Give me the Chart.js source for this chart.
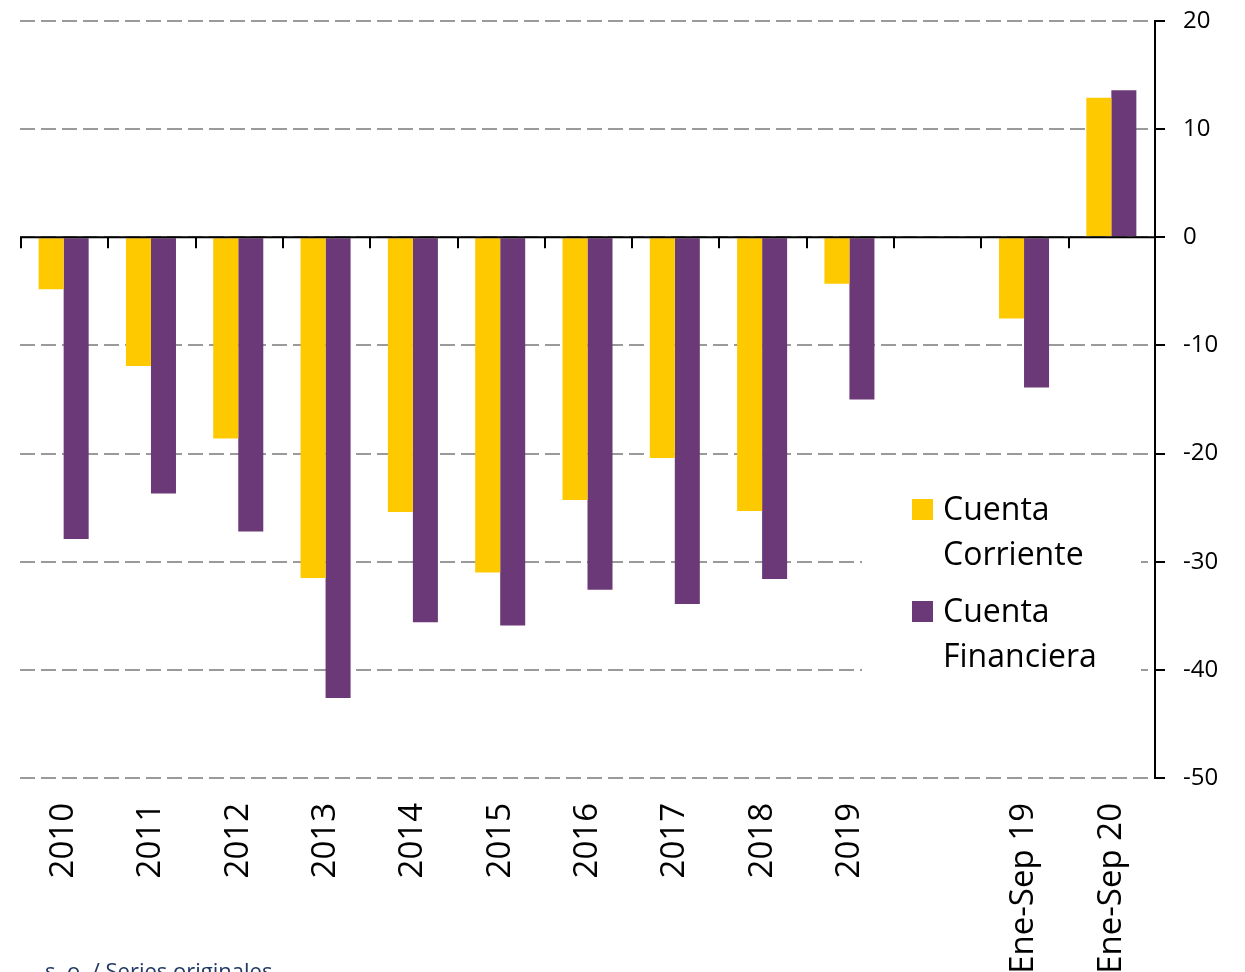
<!DOCTYPE html>
<html>
<head>
<meta charset="utf-8">
<script src="https://cdn.jsdelivr.net/npm/chart.js@4.4.1/dist/chart.umd.min.js"></script>
<style>
  html, body { margin: 0; padding: 0; background: #ffffff; }
  #wrap { position: relative; width: 1245px; height: 972px; overflow: hidden; }
  canvas { display: block; }
</style>
</head>
<body>
<div id="wrap"><canvas id="c" width="1245" height="972"></canvas></div>
<script>
const categories = ['2010', '2011', '2012', '2013', '2014', '2015', '2016', '2017', '2018', '2019', '', 'Ene-Sep 19', 'Ene-Sep 20'];
const cuentaCorriente = [-4.8, -11.9, -18.6, -31.5, -25.4, -31.0, -24.3, -20.4, -25.3, -4.3, null, -7.5, 12.9];
const cuentaFinanciera = [-27.9, -23.7, -27.2, -42.6, -35.6, -35.9, -32.6, -33.9, -31.6, -15.0, null, -13.9, 13.6];
const seriesLabels = ['Cuenta Corriente', 'Cuenta Financiera'];
const yMin = -50, yMax = 20, yStep = 10;
const footnote = 's. o. / Series originales';

const FONT = "'Open Sans', 'DejaVu Sans', sans-serif";
const YELLOW = '#FFC900';
const PURPLE = '#6B3977';

const decorPlugin = {
  id: 'decor',
  afterDatasetsDraw(chart) {
    const ctx = chart.ctx;
    const xs = chart.scales.x, ys = chart.scales.y;
    const area = chart.chartArea;
    const y0 = ys.getPixelForValue(0);
    const step = xs.getPixelForValue(1) - xs.getPixelForValue(0);
    ctx.save();
    ctx.strokeStyle = '#000';
    ctx.lineWidth = 2;
    ctx.beginPath();
    ctx.moveTo(area.left, y0);
    ctx.lineTo(area.right, y0);
    for (let i = 0; i < categories.length; i++) {
      const bx = Math.round(xs.getPixelForValue(i) - step / 2);
      ctx.moveTo(bx + 1, y0);
      ctx.lineTo(bx + 1, y0 + 11);
    }
    ctx.stroke();

    // legend
    const lx = area.right - 293, ly = 475;
    ctx.fillStyle = '#fff';
    ctx.fillRect(lx, ly, 279, 218);
    const sq = area.right - 243, tx = area.right - 212;
    const blocks = [
      { color: YELLOW, label: chart.data.datasets[0].label, top: 499 },
      { color: PURPLE, label: chart.data.datasets[1].label, top: 601 }
    ];
    ctx.font = '32px ' + FONT;
    ctx.textBaseline = 'alphabetic';
    ctx.textAlign = 'left';
    blocks.forEach(b => {
      ctx.fillStyle = b.color;
      ctx.fillRect(sq, b.top, 21, 21);
      ctx.fillStyle = '#000';
      const parts = b.label.split(' ');
      parts.forEach((p, k) => ctx.fillText(p, tx, b.top + 21 + k * 45));
    });

    // footnote
    ctx.font = '22px ' + FONT;
    ctx.fillStyle = '#1F3864';
    ctx.fillText(footnote, 45, 979);
    ctx.restore();
  }
};

new Chart(document.getElementById('c'), {
  type: 'bar',
  data: {
    labels: categories,
    datasets: [
      { label: seriesLabels[0], data: cuentaCorriente, backgroundColor: YELLOW, borderWidth: 0 },
      { label: seriesLabels[1], data: cuentaFinanciera, backgroundColor: PURPLE, borderWidth: 0 }
    ]
  },
  options: {
    responsive: false,
    animation: false,
    devicePixelRatio: 1,
    layout: { padding: { left: 20, top: 21, right: 0, bottom: 0 } },
    datasets: { bar: { categoryPercentage: 0.573, barPercentage: 1.0 } },
    plugins: { legend: { display: false }, tooltip: { enabled: false }, title: { display: false } },
    scales: {
      x: {
        type: 'category',
        position: 'bottom',
        offset: true,
        grid: { display: false, drawTicks: false },
        border: { display: false },
        ticks: {
          minRotation: 90, maxRotation: 90, autoSkip: false,
          padding: 25, color: '#000',
          font: { family: FONT, size: 33 }
        },
        afterFit(scale) { scale.height = 972 - 778; }
      },
      y: {
        position: 'right',
        min: yMin, max: yMax,
        grid: {
          color: '#9a9a9a', lineWidth: 2,
          drawTicks: true, tickLength: 10, tickColor: '#000', tickWidth: 2, tickBorderDash: []
        },
        border: { display: true, color: '#000', width: 2, dash: [15, 6] },
        ticks: {
          stepSize: yStep, padding: 18, color: '#000',
          font: { family: FONT, size: 24 }
        },
        afterFit(scale) {
          scale.width = 90;
          scale.paddingTop = 10;
          scale.paddingBottom = 10;
        }
      }
    }
  },
  plugins: [decorPlugin]
});
</script>
</body>
</html>
